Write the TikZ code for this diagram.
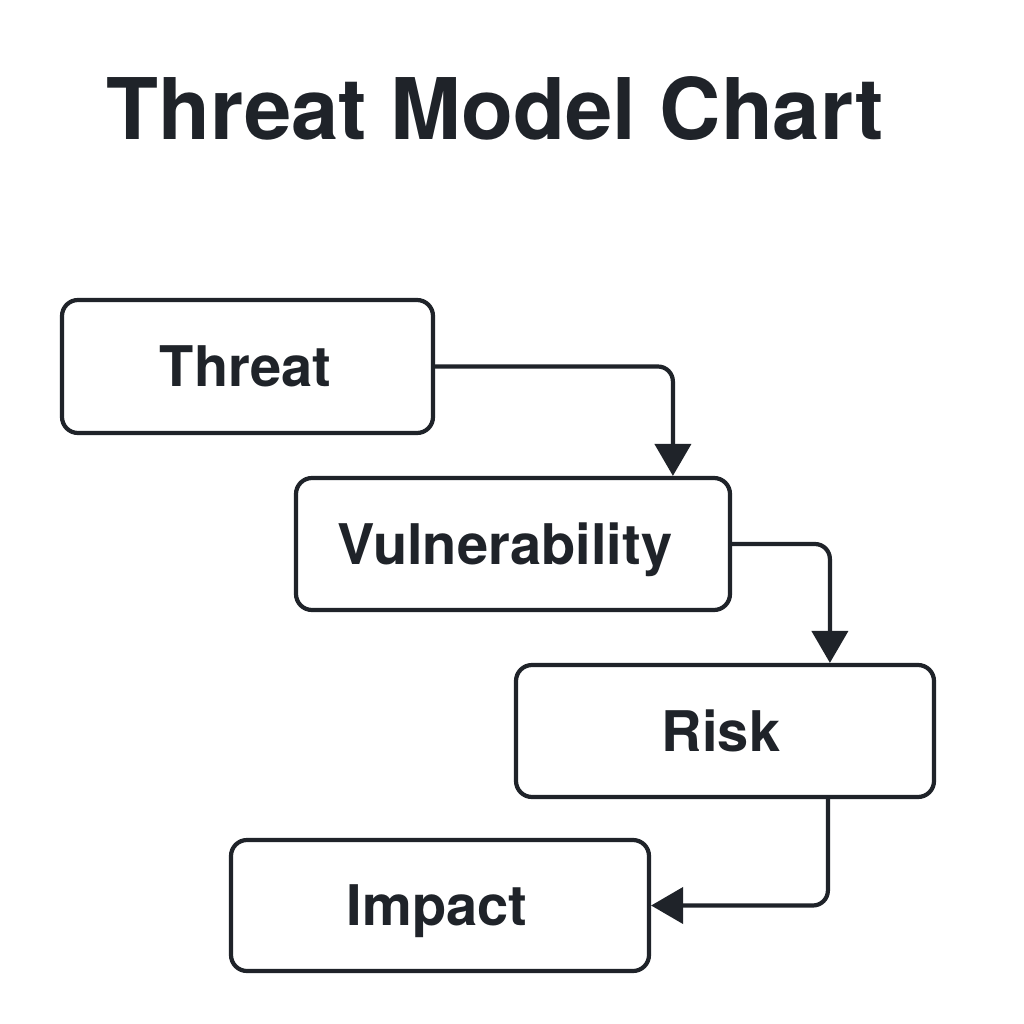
\documentclass[tikz,border=0pt]{standalone}
\usepackage{fontspec}
\setmainfont{TeX Gyre Heros}
\usetikzlibrary{arrows.meta}
\definecolor{ink}{RGB}{31,35,41}
\tikzset{
  box/.style={draw=ink, line width=4.2pt, rounded corners=16pt, fill=white,
    text=ink, font=\fontsize{56}{60}\selectfont\bfseries,
    text height=40pt, text depth=0pt, inner sep=0pt},
  conn/.style={draw=ink, line width=4.2pt, rounded corners=15pt,
    -{Triangle[width=36pt,length=32pt]}},
  title/.style={text=ink, font=\fontsize{85}{90}\selectfont\bfseries, inner sep=0pt}
}
\begin{document}
\begin{tikzpicture}[x=1pt,y=-1pt]
\useasboundingbox (0,0) rectangle (1024,1024);
\fill[white] (0,0) rectangle (1024,1024);
\node[title, anchor=base] (ttl) at (495,140) {Threat Model Chart};
\node[box, minimum width=371pt, minimum height=133pt] (threat) at (247.5,366.5) {\hspace*{-4pt}Threat};
\node[box, minimum width=434pt, minimum height=132pt] (vuln) at (513,544) {\hspace*{-16pt}Vulnerability};
\node[box, minimum width=418pt, minimum height=132pt] (risk) at (725,731) {\hspace*{-8pt}Risk};
\node[box, minimum width=418pt, minimum height=131pt] (impact) at (440,905.5) {\hspace*{-6pt}Impact};
\draw[conn] (threat.east) -| ([xshift=379pt]vuln.north west);
\draw[conn] (vuln.east) -| ([xshift=316pt]risk.north west);
\draw[conn] ([xshift=314pt]risk.south west) |- (impact.east);
\end{tikzpicture}
\end{document}
